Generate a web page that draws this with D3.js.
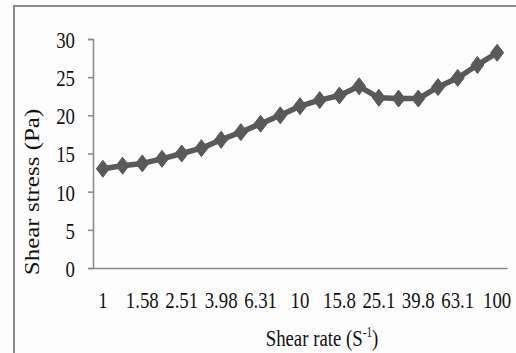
<!DOCTYPE html>
<html>
<head>
<meta charset="utf-8">
<script src="https://cdn.jsdelivr.net/npm/d3@7"></script>
<style>
  html, body { margin: 0; padding: 0; background: #fdfdfd; }
  svg { display: block; }
  text { font-family: "Liberation Serif", "Times New Roman", serif; fill: #111; }
</style>
</head>
<body>
<svg id="chart" width="516" height="353"></svg>
<script>
const categories = ["1","1.26","1.58","2","2.51","3.16","3.98","5.01","6.31","7.94","10","12.6","15.8","20","25.1","31.6","39.8","50.1","63.1","79.4","100"];
const shearStress = [13.0, 13.4, 13.7, 14.3, 15.0, 15.7, 16.8, 17.8, 18.9, 20.0, 21.2, 22.0, 22.6, 23.8, 22.3, 22.2, 22.2, 23.7, 24.9, 26.6, 28.2];
const xTickLabels = ["1","1.58","2.51","3.98","6.31","10","15.8","25.1","39.8","63.1","100"];
const yTicks = [0, 5, 10, 15, 20, 25, 30];

(function () {
const svg = d3.select("#chart");
const W = 516, H = 353;
const mLeft = 93, mRight = 507, mTop = 39, mBottom = 268;
const sx = 0.8;
const fs = 23.5;

// outer frame
svg.append("rect")
  .attr("x", 14).attr("y", 6)
  .attr("width", W + 20).attr("height", H + 20)
  .attr("fill", "#fdfdfd")
  .attr("stroke", "#8a8a8a").attr("stroke-width", 2);

const x = d3.scaleBand().domain(categories).range([mLeft, mRight]).padding(0);
const y = d3.scaleLinear().domain([0, 30]).range([mBottom, mTop]);

// y axis
const yAxis = svg.append("g")
  .attr("transform", `translate(${mLeft},0)`)
  .call(d3.axisLeft(y).tickValues(yTicks).tickSize(5).tickPadding(12).tickFormat(d3.format("d")));
yAxis.select(".domain").attr("stroke", "#8a8a8a").attr("stroke-width", 1.5);
yAxis.selectAll(".tick line").attr("stroke", "#8a8a8a").attr("stroke-width", 1.5);
yAxis.selectAll(".tick text")
  .attr("font-size", fs).attr("fill", "#111")
  .attr("dy", "0.36em")
  .attr("transform", `scale(${sx},1)`)
  .attr("x", -18 / sx);

// x axis
const xAxis = svg.append("g")
  .attr("transform", `translate(0,${mBottom})`)
  .call(d3.axisBottom(x).tickValues(categories.filter(c => xTickLabels.includes(c))).tickSize(0).tickPadding(24));
xAxis.select(".domain").attr("stroke", "#8a8a8a").attr("stroke-width", 1.5);
xAxis.selectAll(".tick text")
  .attr("font-size", fs).attr("fill", "#111")
  .attr("dy", "0.71em")
  .attr("y", 23)
  .attr("transform", `scale(${sx},1)`);

// line
const line = d3.line()
  .x((d, i) => x(categories[i]) + x.bandwidth() / 2)
  .y(d => y(d));
svg.append("path")
  .datum(shearStress)
  .attr("d", line)
  .attr("fill", "none")
  .attr("stroke", "#595959")
  .attr("stroke-width", 5.5)
  .attr("stroke-linejoin", "round");

// diamond markers
svg.append("g").selectAll("path")
  .data(shearStress)
  .join("path")
  .attr("d", "M0,-8.5 L6.5,0 L0,8.5 L-6.5,0 Z")
  .attr("transform", (d, i) => `translate(${x(categories[i]) + x.bandwidth() / 2},${y(d)})`)
  .attr("fill", "#595959")
  .attr("stroke", "#595959")
  .attr("stroke-width", 1);

// x title
const xt = svg.append("text")
  .attr("transform", `translate(322,346) scale(${sx},1)`)
  .attr("text-anchor", "middle")
  .attr("font-size", fs);
xt.append("tspan").text("Shear rate (S");
xt.append("tspan").attr("font-size", 14).attr("dy", -9).text("-1");
xt.append("tspan").attr("dy", 9).text(")");

// y title
svg.append("text")
  .attr("transform", `translate(39,${(107 + 277) / 2}) scale(${sx},1) rotate(-90)`)
  .attr("text-anchor", "middle")
  .attr("font-size", 25)
  .text("Shear stress (Pa)");
})();
</script>
</body>
</html>
